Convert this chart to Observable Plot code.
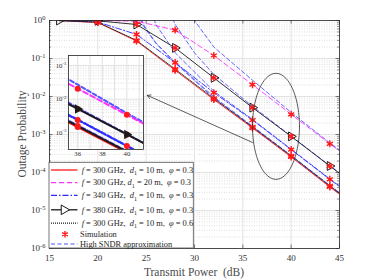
<!DOCTYPE html>
<html><head><meta charset="utf-8">
<script src="https://cdn.jsdelivr.net/npm/d3@7"></script>
<script src="https://cdn.jsdelivr.net/npm/@observablehq/plot@0.6"></script>
<style>
body{margin:0;background:#fff;}
#wrap{position:relative;width:374px;height:280px;overflow:hidden;font-family:"Liberation Serif","Times New Roman",serif;color:#262626;}
#wrap svg{position:absolute;}
.ttl{position:absolute;font-size:11.5px;font-weight:400;white-space:pre;color:#4a4a4a;font-family:"Liberation Serif","Times New Roman",serif;}
</style></head><body><div id="wrap"></div>
<script>
// ---------- data ----------
const powerDb      = [16, 20, 24, 28, 32, 36, 40, 44, 45];
const outRed       = [0.989, 0.885, 0.288, 0.049, 0.0083, 0.00148, 0.000257, 4.17e-5, 2.69e-5];
const outMagenta   = [1.0, 0.995, 0.96, 0.56, 0.12, 0.0205, 0.0034, 0.00057, 0.00037];
const outBlue      = [0.998, 0.91, 0.43, 0.078, 0.0126, 0.0024, 0.0004, 6.6e-5, 4.25e-5];
const outTri       = [1.0, 0.98, 0.785, 0.19, 0.031, 0.0051, 0.00089, 0.000148, 9.5e-5];
const outDot       = [0.995, 0.90, 0.30, 0.0525, 0.0089, 0.00158, 0.000275, 4.45e-5, 2.88e-5];
const simPowerDb   = [20, 24, 28, 32, 36, 40, 44];
const markerPowerDb= [16, 20, 24, 28, 32, 36, 40, 44];
// high-SNDR approximations (each has its own power grid)
const apxMagX = [29.6, 30, 32, 36, 40, 44, 45];
const apxMag  = [1.6, 1.0, 0.2, 0.0269, 0.0038, 0.0006, 0.00039];
const apxTriX = [27.5, 28, 30, 32, 36, 40, 44, 45];
const apxTri  = [1.6, 0.79, 0.141, 0.038, 0.0055, 0.00091, 0.000151, 9.8e-5];
const apxBluX = [25.6, 26, 28, 32, 36, 40, 44, 45];
const apxBlu  = [1.6, 0.79, 0.141, 0.0138, 0.0025, 0.00041, 6.8e-5, 4.4e-5];
const apxRedX = [24.2, 24.6, 26, 28, 32, 36, 40, 44, 45];
const apxRed  = [1.6, 0.79, 0.25, 0.076, 0.0091, 0.00155, 0.000263, 4.27e-5, 2.75e-5];
const apxDotX = [24.3, 24.7, 26, 28, 32, 36, 40, 44, 45];
const apxDot  = [1.6, 0.79, 0.26, 0.079, 0.0098, 0.00166, 0.000282, 4.57e-5, 2.95e-5];
const freqs = [300, 300, 340, 380, 300];
const dists = [10, 20, 10, 10, 10];
const phis  = [0.3, 0.3, 0.3, 0.3, 0.6];
const xTicks = [15, 20, 25, 30, 35, 40, 45];
const yTicks = [1e-6, 1e-5, 1e-4, 1e-3, 1e-2, 1e-1, 1];
const insetXTicks = [36, 38, 40];
const insetYTicks = [1e-3, 1e-2, 1e-1];
const xLabel = "Transmit Power  (dB)";
const yLabel = "Outage Probability";
const simLabel = "Simulation";
const approxLabel = "High SNDR approximation";
// annotation (ellipse + arrow) in data units
const ellipseSpec = {cx: 38.43, cyLog: -2.785, rx: 2.43, ryLog: 1.395};
const arrowSpec = {x1: 36.0, y1: 10 ** -3.21, x2: 25.12, y2: 10 ** -1.97};

// ---------- styling ----------
const RED = "#ff1a1a", MAG = "#ff33ff", BLUE = "#2a2aff", APPROX = "#5555ff", BLACK = "#1a1a1a";
const series = [
  {vals: outRed, ax: apxRedX, ay: apxRed, color: RED, dash: null, tri: false},
  {vals: outMagenta, ax: apxMagX, ay: apxMag, color: MAG, dash: "5,3", tri: false},
  {vals: outBlue, ax: apxBluX, ay: apxBlu, color: BLUE, dash: "6,2,1.5,2", tri: false},
  {vals: outTri, ax: apxTriX, ay: apxTri, color: BLACK, dash: null, tri: true},
  {vals: outDot, ax: apxDotX, ay: apxDot, color: BLACK, dash: "1,1", tri: false}
];
const rows = (xs, ys) => xs.map((x, i) => ({x, y: ys[i]}));
const simRows = series.flatMap(s => simPowerDb.map(x => ({x, y: s.vals[powerDb.indexOf(x)]})));
const triRows = markerPowerDb.map(x => ({x, y: outTri[powerDb.indexOf(x)]}));

const minorY = [];
for (let e = -6; e < 0; e++) for (let m = 2; m <= 9; m++) minorY.push(m * 10 ** e);

const ellRows = d3.range(0, 73).map(i => {
  const t = i / 72 * 2 * Math.PI;
  return {x: ellipseSpec.cx + ellipseSpec.rx * Math.cos(t), y: 10 ** (ellipseSpec.cyLog + ellipseSpec.ryLog * Math.sin(t))};
});

const FONT = "'Liberation Serif','Times New Roman',serif";
const W = 374, H = 280, mL = 49, mR = 35, mT = 20, mB = 32;
const pw = W - mL - mR, ph = H - mT - mB;

function lineMarks(width) {
  const ms = [];
  series.forEach(s => {
    ms.push(Plot.line(rows(s.ax, s.ay), {x: "x", y: "y", stroke: APPROX, strokeWidth: width, strokeDasharray: "4,2.5", clip: true}));
  });
  series.forEach(s => {
    ms.push(Plot.line(rows(powerDb, s.vals), {x: "x", y: "y", stroke: s.color, strokeWidth: width, strokeDasharray: s.dash, clip: true}));
  });
  return ms;
}

const main = Plot.plot({
  width: W, height: H, marginLeft: mL, marginRight: mR, marginTop: mT, marginBottom: mB,
  style: {fontFamily: FONT, fontSize: "9px", color: "#333", background: "transparent"},
  x: {domain: [15, 45], ticks: xTicks, tickSize: 0, tickPadding: 6, label: null},
  y: {type: "log", domain: [1e-6, 1], ticks: yTicks, tickSize: 0, tickPadding: 4, label: null,
      tickFormat: d => "10^" + Math.round(Math.log10(d))},
  marks: [
    Plot.ruleY(minorY, {stroke: "#c8c8c8", strokeWidth: 0.6, strokeDasharray: "1,1.5"}),
    Plot.ruleY(yTicks, {stroke: "#e2e2e2", strokeWidth: 1}),
    Plot.ruleX(xTicks, {stroke: "#e2e2e2", strokeWidth: 1}),
    ...lineMarks(0.9),
    Plot.dot(triRows, {x: "x", y: "y", symbol: "triangle", rotate: 90, r: 3.3, stroke: BLACK, strokeWidth: 1, fill: "none", clip: true}),
    Plot.dot(simRows, {x: "x", y: "y", symbol: "asterisk", r: 3.3, stroke: RED, strokeWidth: 1.4, clip: true}),
    Plot.line(ellRows, {x: "x", y: "y", stroke: "#333", strokeWidth: 0.8}),
    Plot.arrow([arrowSpec], {x1: "x1", y1: "y1", x2: "x2", y2: "y2", stroke: "#333", strokeWidth: 0.8, headLength: 7}),
    // inward ticks (major & minor) on all four sides
    Plot.ruleY(yTicks, {insetRight: pw - 3.5, stroke: "#262626", strokeWidth: 0.6}),
    Plot.ruleY(yTicks, {insetLeft: pw - 3.5, stroke: "#262626", strokeWidth: 0.6}),
    Plot.ruleY(minorY, {insetRight: pw - 2, stroke: "#262626", strokeWidth: 0.5}),
    Plot.ruleY(minorY, {insetLeft: pw - 2, stroke: "#262626", strokeWidth: 0.5}),
    Plot.ruleX(xTicks, {insetTop: ph - 3.5, stroke: "#262626", strokeWidth: 0.6}),
    Plot.ruleX(xTicks, {insetBottom: ph - 3.5, stroke: "#262626", strokeWidth: 0.6}),
    Plot.frame({stroke: "#262626", strokeWidth: 0.8})
  ]
});

function superscriptTicks(svg) {
  d3.select(svg).selectAll('g[aria-label="y-axis tick label"] text').each(function () {
    const m = this.textContent.match(/^10\^(-?\d+)$/);
    if (!m) return;
    this.textContent = "";
    const t = d3.select(this);
    t.append("tspan").text("10");
    t.append("tspan").attr("dy", "-0.5em").attr("font-size", "0.72em").text(m[1]);
  });
}
superscriptTicks(main);

const wrap = document.getElementById("wrap");
main.style.left = "0px"; main.style.top = "0px";
wrap.appendChild(main);

// ---------- legend (inside axes, bottom-left) ----------
const leg = d3.create("svg").attr("width", W).attr("height", H).style("left", "0px").style("top", "0px")
  .attr("font-family", FONT).attr("fill", "#262626");
leg.append("rect").attr("x", 49).attr("y", 162.3).attr("width", 144.3).attr("height", 85.7)
  .attr("fill", "white").attr("stroke", "#555").attr("stroke-width", 0.8);
const rowY = [170, 182.7, 195.3, 209.8, 223.2];
series.forEach((s, i) => {
  const y = rowY[i];
  leg.append("line").attr("x1", 51).attr("x2", 77.5).attr("y1", y).attr("y2", y)
    .attr("stroke", s.color).attr("stroke-width", 1.3).attr("stroke-dasharray", s.dash);
  if (s.tri) {
    leg.append("path").attr("d", d3.symbol(d3.symbolTriangle, 40)()).attr("transform", `translate(64,${y}) rotate(90)`)
      .attr("fill", "white").attr("stroke", BLACK).attr("stroke-width", 1);
  }
  const t = leg.append("text").attr("x", 81.7).attr("y", y).attr("dy", "0.33em").attr("font-size", 8.4).style("white-space", "pre");
  t.append("tspan").attr("font-style", "italic").text("f");
  t.append("tspan").text(` = ${freqs[i]} GHz,${i === 1 ? " " : "  "}`);
  t.append("tspan").attr("font-style", "italic").text("d");
  t.append("tspan").attr("font-size", 6).attr("dy", "2.5").text("1");
  t.append("tspan").attr("dy", "-2.5").text(` = ${dists[i]} m,  `);
  t.append("tspan").attr("font-style", "italic").text("φ");
  t.append("tspan").text(` = ${phis[i]}`);
});
leg.append("path").attr("d", d3.symbol(d3.symbolAsterisk, 30)()).attr("transform", "translate(65,234.3)")
  .attr("stroke", RED).attr("stroke-width", 1.4).attr("fill", "none");
leg.append("text").attr("x", 80).attr("y", 234.3).attr("dy", "0.33em").attr("font-size", 8.4).text(simLabel);
leg.append("line").attr("x1", 51).attr("x2", 77.5).attr("y1", 244).attr("y2", 244)
  .attr("stroke", APPROX).attr("stroke-width", 1.1).attr("stroke-dasharray", "4,2.5");
leg.append("text").attr("x", 80).attr("y", 244).attr("dy", "0.33em").attr("font-size", 8.4).text(approxLabel);
wrap.appendChild(leg.node());

// ---------- inset (zoom of 36-40 dB) ----------
const iL = 16, iR = 4, iT = 4, iB = 12, iW = 75, iH = 94;
const insetMinorY = [];
for (let e = -4; e < 0; e++) for (let m = 2; m <= 9; m++) insetMinorY.push(m * 10 ** e);
const inset = Plot.plot({
  width: iL + iW + iR, height: iT + iH + iB, marginLeft: iL, marginRight: iR, marginTop: iT, marginBottom: iB,
  style: {fontFamily: FONT, fontSize: "6.8px", color: "#333", background: "transparent"},
  x: {domain: [35.25, 41.35], ticks: insetXTicks, tickSize: 0, tickPadding: 2, label: null, tickFormat: d => String(d)},
  y: {type: "log", domain: [10 ** -3.5, 10 ** -0.7], ticks: insetYTicks, tickSize: 0, tickPadding: 2, label: null,
      tickFormat: d => "10^" + Math.round(Math.log10(d))},
  marks: [
    Plot.frame({fill: "white"}),
    Plot.ruleY(insetMinorY, {stroke: "#c8c8c8", strokeWidth: 0.6, strokeDasharray: "1,1.5", clip: true}),
    Plot.ruleY(insetYTicks, {stroke: "#e2e2e2"}),
    Plot.ruleX([36, 37, 38, 39, 40, 41], {stroke: "#e2e2e2"}),
    ...lineMarks(2),
    Plot.dot(simRows, {x: "x", y: "y", r: 3, fill: RED, clip: true}),
    Plot.dot(triRows, {x: "x", y: "y", symbol: "triangle", rotate: 90, r: 3.5, fill: BLACK, clip: true}),
    Plot.frame({stroke: "#262626", strokeWidth: 0.8})
  ]
});
superscriptTicks(inset);
inset.style.left = (68.3 - iL) + "px"; inset.style.top = (55 - iT) + "px";
wrap.appendChild(inset);

// ---------- axis titles ----------
const xt = document.createElement("div");
xt.className = "ttl"; xt.textContent = xLabel;
xt.style.left = "194px"; xt.style.top = "272px"; xt.style.transform = "translate(-50%,-50%)";
wrap.appendChild(xt);
const yt = document.createElement("div");
yt.className = "ttl"; yt.textContent = yLabel;
yt.style.left = "21.5px"; yt.style.top = "134px"; yt.style.transform = "translate(-50%,-50%) rotate(-90deg)";
wrap.appendChild(yt);
</script></body></html>
